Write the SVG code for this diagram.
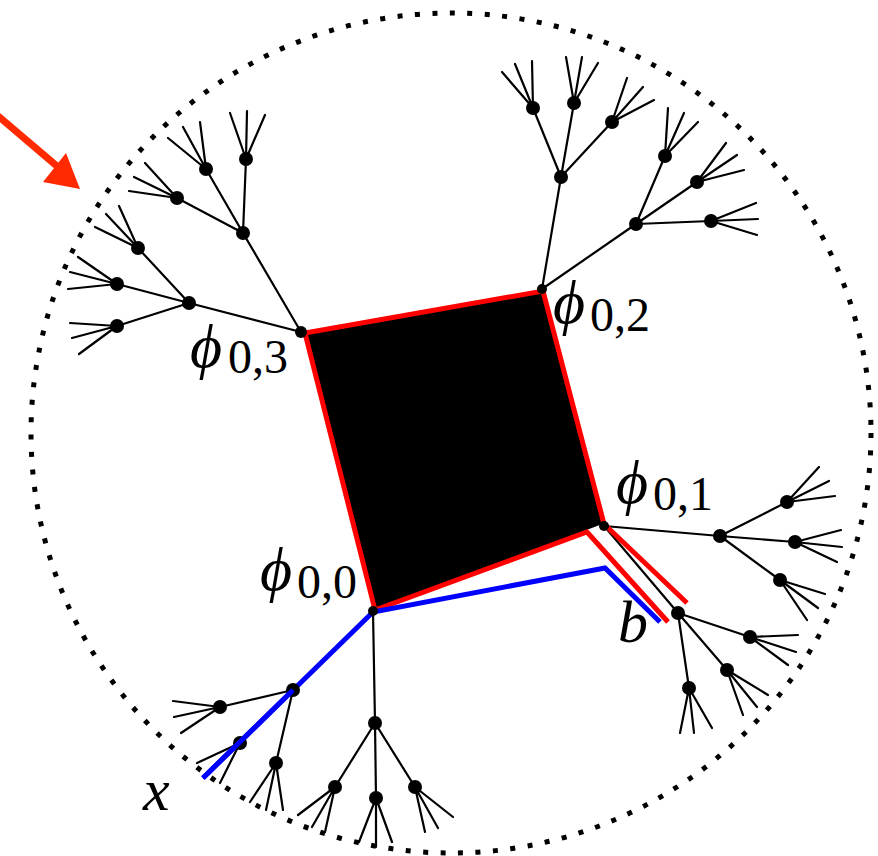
<svg xmlns="http://www.w3.org/2000/svg" width="878" height="856" viewBox="0 0 878 856">
<style>
.e{stroke:#000;stroke-width:2.2;fill:none;stroke-linecap:round}
.d{fill:#000}
.red{stroke:#ff0000;stroke-width:5;fill:none;stroke-linejoin:miter}
.blue{stroke:#0000ff;stroke-width:5;fill:none;stroke-linejoin:miter}
.t{font-family:"Liberation Serif","DejaVu Serif",serif;font-style:italic;fill:#000}
.s{font-family:"Liberation Serif","DejaVu Serif",serif;fill:#000}
</style>
<rect width="878" height="856" fill="#fff"/>
<circle cx="451" cy="433" r="420" fill="none" stroke="#000" stroke-width="5" stroke-dasharray="5 12.5"/>
<g id="arrow">
<line x1="-2" y1="116" x2="58" y2="167" stroke="#ff2a00" stroke-width="7"/>
<polygon points="66,153 43,182 80,189" fill="#ff2a00"/>
</g>
<g id="face">
<polygon points="305,333 543,291 605,523 375,610" fill="#000"/>
</g>
<g id="connectors">
<path class="e" d="M301,332L243,233M301,332L189,303
M243,233L206,169M243,233L246,159M243,233L177,198
M189,303L138,248M189,303L117,284M189,303L117,326
M206,169L168,138M206,169L183,127M206,169L200,122
M246,159L230,113M246,159L247,111M246,159L265,115
M177,198L145,163M177,198L134,177M177,198L129,191
M138,248L95,227M138,248L106,214M138,248L119,206
M117,284L78,257M117,284L70,272M117,284L68,289
M117,326L70,323M117,326L72,338M117,326L79,354"/>
<path class="e" d="M542,289L561,177M542,289L636,224
M561,177L533,108M561,177L574,103M561,177L612,122
M636,224L665,156M636,224L697,182M636,224L711,221
M533,108L502,72M533,108L515,64M533,108L532,61
M574,103L566,57M574,103L582,57M574,103L598,63
M612,122L627,78M612,122L643,87M612,122L654,100
M665,156L668,108M665,156L684,113M665,156L698,122
M697,182L726,143M697,182L737,155M697,182L744,170
M711,221L756,203M711,221L758,219M711,221L757,235"/>
<path class="e" d="M604,526L720,536M605,527L678,613
M720,536L787,502M720,536L795,542M720,536L780,580
M678,613L750,637M678,613L727,670M678,613L689,688
M787,502L819,467M787,502L829,481M787,502L835,496
M795,542L841,530M795,542L842,547M795,542L837,562
M780,580L825,594M780,580L818,608M780,580L807,620
M750,637L798,635M750,637L796,652M750,637L788,665
M727,670L768,695M727,670L757,707M727,670L743,715
M689,688L680,733M689,688L694,733M689,688L712,728"/>
<path class="e" d="M373,611L375,723M373,611L293,690
M375,723L335,787M375,723L376,798M375,723L415,787
M293,690L220,707M293,690L240,743M293,690L276,763
M335,787L298,815M335,787L312,827M335,787L325,832
M376,798L359,842M376,798L376,847M376,798L392,842
M415,787L425,832M415,787L438,828M415,787L453,817
M220,707L173,701M220,707L174,717M220,707L181,733
M240,743L197,763M240,743L220,783M240,743L204,778
M276,763L250,802M276,763L266,810M276,763L283,810"/>
<path class="red" d="M687,603L604,524L543,291L305,333L375,610L587,532L668,622"/>
<path class="blue" d="M203,778L373,612L605,568L660,622"/>
</g>
<g id="phi00"><circle class="d" cx="373" cy="611" r="5"/></g>
<g id="phi01"><circle class="d" cx="604" cy="526" r="5"/></g>
<g id="phi02"><circle class="d" cx="542" cy="289" r="5"/></g>
<g id="phi03"><circle class="d" cx="301" cy="332" r="6"/></g>
<g id="nA"><circle class="d" cx="243" cy="233" r="7"/></g>
<g id="nB"><circle class="d" cx="189" cy="303" r="7"/></g>
<g id="na1"><circle class="d" cx="206" cy="169" r="7"/></g>
<g id="na2"><circle class="d" cx="246" cy="159" r="7"/></g>
<g id="na3"><circle class="d" cx="177" cy="198" r="7"/></g>
<g id="nb1"><circle class="d" cx="138" cy="248" r="7"/></g>
<g id="nb2"><circle class="d" cx="117" cy="284" r="7"/></g>
<g id="nb3"><circle class="d" cx="117" cy="326" r="7"/></g>
<g id="nC"><circle class="d" cx="561" cy="177" r="7"/></g>
<g id="nD"><circle class="d" cx="636" cy="224" r="7"/></g>
<g id="nc1"><circle class="d" cx="533" cy="108" r="7"/></g>
<g id="nc2"><circle class="d" cx="574" cy="103" r="7"/></g>
<g id="nc3"><circle class="d" cx="612" cy="122" r="7"/></g>
<g id="nd1"><circle class="d" cx="665" cy="156" r="7"/></g>
<g id="nd2"><circle class="d" cx="697" cy="182" r="7"/></g>
<g id="nd3"><circle class="d" cx="711" cy="221" r="7"/></g>
<g id="nE"><circle class="d" cx="720" cy="536" r="7"/></g>
<g id="nF"><circle class="d" cx="678" cy="613" r="7"/></g>
<g id="ne1"><circle class="d" cx="787" cy="502" r="7"/></g>
<g id="ne2"><circle class="d" cx="795" cy="542" r="7"/></g>
<g id="ne3"><circle class="d" cx="780" cy="580" r="7"/></g>
<g id="nf1"><circle class="d" cx="750" cy="637" r="7"/></g>
<g id="nf2"><circle class="d" cx="727" cy="670" r="7"/></g>
<g id="nf3"><circle class="d" cx="689" cy="688" r="7"/></g>
<g id="nG"><circle class="d" cx="375" cy="723" r="7"/></g>
<g id="nH"><circle class="d" cx="293" cy="690" r="7"/></g>
<g id="ng1"><circle class="d" cx="335" cy="787" r="7"/></g>
<g id="ng2"><circle class="d" cx="376" cy="798" r="7"/></g>
<g id="ng3"><circle class="d" cx="415" cy="787" r="7"/></g>
<g id="nh1"><circle class="d" cx="220" cy="707" r="7"/></g>
<g id="nh2"><circle class="d" cx="240" cy="743" r="7"/></g>
<g id="nh3"><circle class="d" cx="276" cy="763" r="7"/></g>
<path class="blue" d="M293,690L203,778"/>
<g id="labels">
<text class="t" x="190" y="367" font-size="62">ϕ</text><text class="s" x="228" y="373" font-size="48">0,3</text>
<text class="t" x="553" y="323" font-size="62">ϕ</text><text class="s" x="590" y="331" font-size="48">0,2</text>
<text class="t" x="616" y="503" font-size="62">ϕ</text><text class="s" x="653" y="510" font-size="48">0,1</text>
<text class="t" x="260" y="590" font-size="62">ϕ</text><text class="s" x="297" y="598" font-size="48">0,0</text>
<text class="t" x="618" y="642" font-size="60">b</text>
<text class="t" x="143" y="810" font-size="60">x</text>
</g>
</svg>
